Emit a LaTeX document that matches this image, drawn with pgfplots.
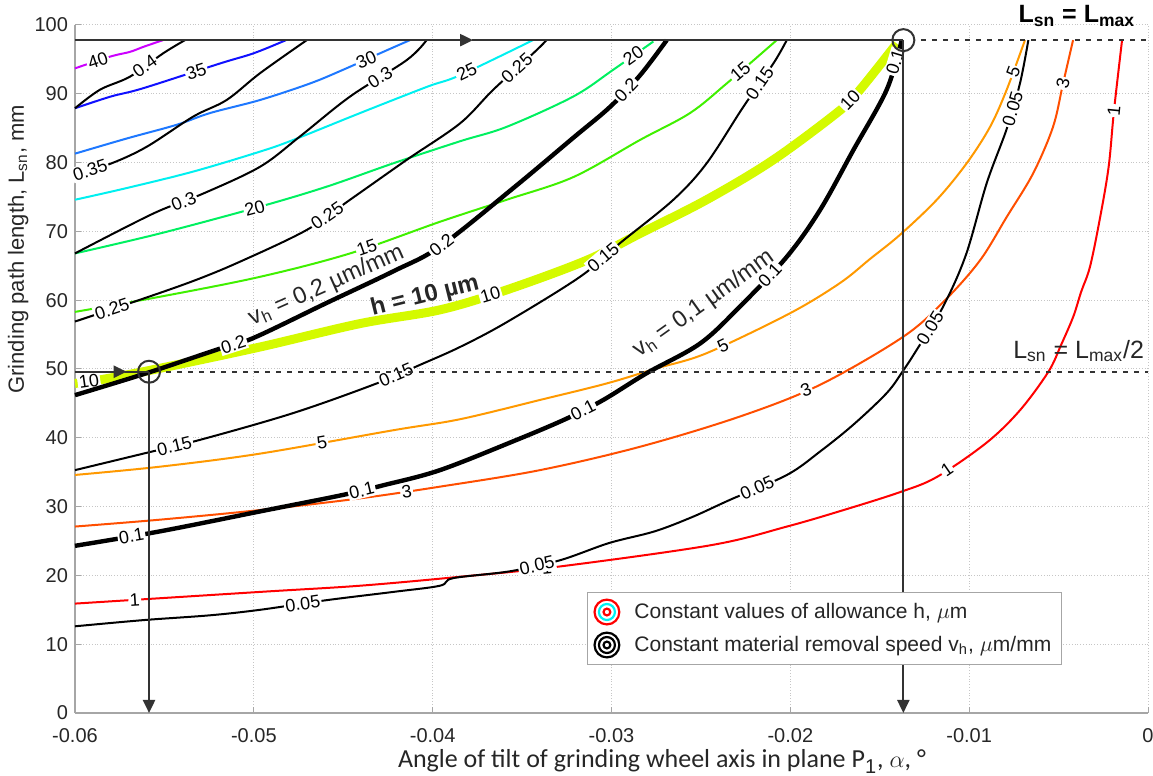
\documentclass[border=0pt]{standalone}
\usepackage{pgfplots}
\pgfplotsset{compat=1.18}
\usepackage{fontspec}
\setmainfont{Liberation Sans}
\newfontfamily\carlito{Carlito}
\usetikzlibrary{arrows.meta}
\definecolor{h40}{HTML}{CC00FF}
\definecolor{h35}{HTML}{1010FF}
\definecolor{h30}{HTML}{1E78FF}
\definecolor{h25}{HTML}{00F0F0}
\definecolor{h20}{HTML}{00F060}
\definecolor{h15}{HTML}{40F000}
\definecolor{h10}{HTML}{D4FA00}
\definecolor{h5}{HTML}{FF9900}
\definecolor{h3}{HTML}{FF4E00}
\definecolor{h1}{HTML}{FF0000}
\definecolor{annot}{HTML}{333333}
\tikzset{clab/.style={sloped, fill=white, inner sep=0.7pt, font=\fontsize{9}{9}\selectfont, text=black}}
\pgfplotsset{
  hc/.style={forget plot, smooth, tension=0.55, line width=1pt},
  vc/.style={forget plot, smooth, tension=0.55, line width=1pt, black},
  vct/.style={forget plot, smooth, tension=0.55, line width=2.2pt, black},
}
\begin{document}
\begin{tikzpicture}
\begin{axis}[
  scale only axis, width=536.5pt, height=344pt,
  xmin=-0.06, xmax=0, ymin=0, ymax=100,
  axis lines*=left,
  axis line style={gray!70, line width=0.6pt},
  clip=false,
  scaled x ticks=false, scaled y ticks=false,
  xtick={-0.06,-0.05,-0.04,-0.03,-0.02,-0.01,0},
  xticklabels={-0.06,-0.05,-0.04,-0.03,-0.02,-0.01,0},
  ytick={0,10,...,100},
  /pgf/number format/assume math mode=true,
  tick label style={font=\fontsize{10}{12}\selectfont, text=black!85},
  xticklabel style={yshift=-4pt},
  tick align=inside, major tick length=3pt, tick style={gray!70, line width=0.5pt},
  grid=major, major grid style={densely dotted, gray!45, line width=0.5pt},
  xlabel={\carlito Angle of tilt of grinding wheel axis in plane P\textsubscript{\normalfont\fontsize{10}{10}\selectfont 1}, $\alpha$, °},
  xlabel style={at={(axis description cs:0.547,0)}, anchor=base, yshift=-27.5pt, font=\fontsize{13}{15}\selectfont, text=black!85},
  ylabel={Grinding path length, L\textsubscript{sn}, mm},
  ylabel style={at={(axis description cs:-0.053,0.674)}, anchor=center, font=\fontsize{11}{13}\selectfont, text=black!85},
  legend style={at={(0.477,0.176)}, anchor=north west, draw=gray!70, line width=0.6pt,
    font=\fontsize{10.5}{12}\selectfont, inner xsep=3pt, inner ysep=3pt, row sep=3pt, text=black!85},
  legend cell align=left,
]
\addlegendimage{legend image code/.code={\draw[h1,line width=1.1pt] (0.2cm,0) circle (6.2pt); \draw[h25,line width=1.1pt] (0.2cm,0) circle (4pt); \draw[h1,line width=1.1pt] (0.2cm,0) circle (1.7pt);}}
\addlegendentry{\hspace*{5pt}Constant values of allowance h, $\mu$m}
\addlegendimage{legend image code/.code={\draw[black,line width=1.1pt] (0.2cm,0) circle (6.2pt); \draw[black,line width=1.1pt] (0.2cm,0) circle (4pt); \draw[black,line width=1.1pt] (0.2cm,0) circle (1.7pt);}}
\addlegendentry{\hspace*{5pt}Constant material removal speed v\textsubscript{h}, $\mu$m/mm}

% ---------- h contours ----------
\addplot[hc, h40] coordinates {(-0.06,93.7) (-0.05804,95.4) (-0.05692,96.1) (-0.0562,96.8) (-0.05508,97.8)}
  node[clab, pos=0.27] {40};
\addplot[hc, h35] coordinates {(-0.06,87.9) (-0.058,89.6) (-0.0562,90.8) (-0.0519,94.4) (-0.050,95.9) (-0.0482,97.8)}
  node[clab, pos=0.545] {35};
\addplot[hc, h30] coordinates {(-0.06,81.3) (-0.05711,83.5) (-0.05431,85.5) (-0.05245,87.2) (-0.04965,89.1) (-0.04686,91.5) (-0.045,93.5) (-0.04276,96.1) (-0.04127,97.8)}
  node[clab, pos=0.83] {30};
\addplot[hc, h25] coordinates {(-0.06,74.6) (-0.05711,76.3) (-0.05338,78.7) (-0.04965,81.6) (-0.04779,83.3) (-0.04406,87.2) (-0.04033,91.0) (-0.03847,92.7) (-0.03439,97.8)}
  node[clab, pos=0.80] {25};
\addplot[hc, h20] coordinates {(-0.06,66.8) (-0.05525,69.7) (-0.04965,73.6) (-0.04593,76.5) (-0.0422,79.9) (-0.03847,83.1) (-0.03586,85.2) (-0.03214,89.6) (-0.0299,93.5) (-0.02766,97.6)}
  node[clab, pos=0.214] {20} node[clab, pos=0.933] {20};
\addplot[hc, h15] coordinates {(-0.06,58.3) (-0.05525,60.5) (-0.04965,63.4) (-0.04462,66.8) (-0.03959,71.4) (-0.03586,74.6) (-0.03213,77.9) (-0.0284,83.3) (-0.02561,87.2) (-0.02356,91.5) (-0.02076,97.8)}
  node[clab, pos=0.237] {15} node[clab, pos=0.884] {15};
\addplot[hc, h10, line width=4.5pt] coordinates {(-0.06,47.9) (-0.05842,48.5) (-0.05525,50.1) (-0.04965,53.2) (-0.04406,56.6) (-0.03959,58.6) (-0.03586,61.5) (-0.03139,65.8) (-0.0284,69.7) (-0.02468,74.6) (-0.02095,80.4) (-0.01722,87.6) (-0.0161,90.6) (-0.01405,97.3)}
  node[clab, pos=0.006] {10} node[clab, pos=0.261] {10} node[clab, pos=0.834] {10};
\addplot[hc, h5] coordinates {(-0.06,34.6) (-0.05525,35.8) (-0.04965,37.7) (-0.0422,41.1) (-0.03847,42.7) (-0.034,45.5) (-0.03027,47.9) (-0.02747,50.1) (-0.02468,52.3) (-0.02002,58.1) (-0.01722,62.5) (-0.01554,66.0) (-0.01387,69.5) (-0.01181,74.6) (-0.01014,79.9) (-0.00883,85.2) (-0.0079,90.6) (-0.00688,97.8)}
  node[clab, pos=0.074] {5} node[clab, pos=0.298] {5} node[clab, pos=0.927] {5};
\addplot[hc, h3] coordinates {(-0.06,27.1) (-0.05525,28.1) (-0.04965,29.5) (-0.04406,31.2) (-0.03959,32.9) (-0.034,35.3) (-0.0284,38.7) (-0.02281,43.1) (-0.01834,47.7) (-0.01368,54.7) (-0.01135,60.0) (-0.00939,65.8) (-0.0079,72.1) (-0.00643,78.4) (-0.00531,85.2) (-0.00475,91.5) (-0.00419,97.8)}
  node[clab, pos=0.072] {3} node[clab, pos=0.28] {3} node[clab, pos=0.911] {3};
\addplot[hc, h1] coordinates {(-0.06,15.9) (-0.04965,17.6) (-0.04406,18.5) (-0.03847,19.8) (-0.03288,21.3) (-0.02442,24.4) (-0.02019,27.1) (-0.01702,29.5) (-0.01387,32.1) (-0.01181,34.3) (-0.00902,39.3) (-0.00716,44.0) (-0.00557,49.6) (-0.00486,53.5) (-0.00418,57.6) (-0.00374,61.2) (-0.00324,64.9) (-0.00268,72.0) (-0.0022,79.4) (-0.0019,87.6) (-0.00145,97.8)}
  node[clab, pos=0.0067] {1} node[clab, pos=0.0635] {1} node[clab, pos=0.237] {1} node[clab, pos=0.875] {1};

% ---------- vh contours ----------
\addplot[vc] coordinates {(-0.06,87.9) (-0.0586,90.6) (-0.05692,92.5) (-0.05506,95.9) (-0.05385,97.8)}
  node[clab, pos=0.616] {0.4};
\addplot[vc] coordinates {(-0.06,78.2) (-0.05795,79.9) (-0.05599,82.3) (-0.05338,86.7) (-0.05152,89.1) (-0.04965,93.0) (-0.04704,97.8)}
  node[clab, pos=0.036] {0.35};
\addplot[vc] coordinates {(-0.06,66.8) (-0.05562,72.6) (-0.05283,75.5) (-0.04965,79.4) (-0.04742,83.8) (-0.04462,89.6) (-0.04145,94.9) (-0.04034,97.8)}
  node[clab, pos=0.244] {0.3} node[clab, pos=0.826] {0.3};
\addplot[vc] coordinates {(-0.06,56.9) (-0.05655,59.9) (-0.05338,62.8) (-0.05077,65.6) (-0.04705,70.2) (-0.04462,74.6) (-0.04145,80.4) (-0.03847,85.7) (-0.03661,90.6) (-0.03437,95.9) (-0.03363,97.8)}
  node[clab, pos=0.044] {0.25} node[clab, pos=0.376] {0.25} node[clab, pos=0.90] {0.25};
\addplot[vct] coordinates {(-0.06,46.2) (-0.05599,49.4) (-0.05208,52.8) (-0.05003,54.5) (-0.04593,59.6) (-0.0422,64.2) (-0.03959,67.8) (-0.03549,76.3) (-0.03214,83.6) (-0.03008,88.1) (-0.0284,92.7) (-0.02691,97.8)}
  node[clab, pos=0.143] {0.2} node[clab, pos=0.422] {0.2} node[clab, pos=0.86] {0.2};
\addplot[vc] coordinates {(-0.06,35.3) (-0.05618,37.7) (-0.05301,39.7) (-0.04779,43.6) (-0.04313,47.9) (-0.04071,50.6) (-0.03847,53.2) (-0.03586,56.8) (-0.03176,63.4) (-0.02952,68.3) (-0.02654,74.6) (-0.02468,79.9) (-0.02263,88.1) (-0.02095,94.4) (-0.0202,97.8)}
  node[clab, pos=0.056] {0.15} node[clab, pos=0.221] {0.15} node[clab, pos=0.495] {0.15} node[clab, pos=0.90] {0.15};
\addplot[vct] coordinates {(-0.06,24.3) (-0.05525,26.4) (-0.04965,29.3) (-0.04501,31.7) (-0.04276,33.1) (-0.03959,35.3) (-0.0353,39.7) (-0.0325,42.8) (-0.03046,45.5) (-0.02803,49.4) (-0.02505,53.7) (-0.02281,59.1) (-0.0202,66.3) (-0.01834,73.1) (-0.01648,81.8) (-0.01461,90.6) (-0.01377,97.8)}
  node[clab, pos=0.019] {0.1} node[clab, pos=0.1095] {0.1} node[clab, pos=0.268] {0.1} node[clab, pos=0.536] {0.1} node[clab, pos=0.957] {0.1};
\addplot[vc] coordinates {(-0.06,12.6) (-0.05618,13.5) (-0.05245,14.2) (-0.04965,15.0) (-0.04593,16.4) (-0.0422,17.6) (-0.03959,18.5) (-0.03885,19.6) (-0.03567,20.6) (-0.03288,22.2) (-0.03014,24.7) (-0.02759,26.4) (-0.02547,28.5) (-0.02336,31.0) (-0.02019,34.6) (-0.01834,38.0) (-0.01648,41.9) (-0.01461,46.5) (-0.01368,49.8) (-0.01293,52.8) (-0.01145,59.1) (-0.01018,66.6) (-0.00902,77.0) (-0.0079,84.9) (-0.00716,91.5) (-0.00669,97.8)}
  node[clab, pos=0.0387] {0.05} node[clab, pos=0.104] {0.05} node[clab, pos=0.236] {0.05} node[clab, pos=0.509] {0.05} node[clab, pos=0.883] {0.05};

% ---------- annotations ----------
\draw[annot, line width=1.1pt, -{Triangle[length=6.5pt,width=6pt]}] (axis cs:-0.06,97.8) -- (axis cs:-0.03774,97.8);
\draw[annot, line width=1.1pt] (axis cs:-0.0378,97.8) -- (axis cs:-0.01368,97.8);
\draw[annot, line width=1.1pt, dash pattern=on 2.5pt off 3pt] (axis cs:-0.0127,97.8) -- (axis cs:0,97.8);
\draw[annot, line width=1pt] (axis cs:-0.01368,97.8) circle (5.5pt);
\draw[annot, line width=1.1pt, -{Triangle[length=6.5pt,width=6pt]}] (axis cs:-0.01368,97.8) -- (axis cs:-0.01368,0);

\draw[annot, line width=1.1pt, -{Triangle[length=6.5pt,width=6pt]}] (axis cs:-0.06,49.6) -- (axis cs:-0.05711,49.6);
\draw[annot, line width=1.1pt] (axis cs:-0.0572,49.6) -- (axis cs:-0.05586,49.6);
\draw[annot, line width=1.1pt, dash pattern=on 2.5pt off 3pt] (axis cs:-0.0549,49.6) -- (axis cs:0,49.6);
\draw[annot, line width=1pt] (axis cs:-0.05586,49.6) circle (5.5pt);
\draw[annot, line width=1.1pt, -{Triangle[length=6.5pt,width=6pt]}] (axis cs:-0.05586,49.6) -- (axis cs:-0.05586,0);

\node[anchor=base east, font=\bfseries\fontsize{12.5}{14}\selectfont, text=black, inner sep=0pt] at (axis cs:-0.0007,100.3) {L\textsubscript{sn} = L\textsubscript{max}};
\node[anchor=base east, font=\fontsize{12.5}{14}\selectfont, text=black!85, inner sep=0pt] at (axis cs:-0.0002,51.55) {L\textsubscript{sn} = L\textsubscript{max}/2};
\node[anchor=base, rotate=24, font=\fontsize{11.8}{14}\selectfont, text=black!85, inner sep=0pt] at (axis cs:-0.0458,61.3) {v\textsubscript{h} = 0,2 µm/mm};
\node[anchor=base, rotate=14, font=\bfseries\fontsize{12}{14}\selectfont, text=black!85, inner sep=0pt] at (axis cs:-0.04034,59.7) {h = 10 µm};
\node[anchor=base, rotate=35.5, font=\fontsize{11.8}{14}\selectfont, text=black!85, inner sep=0pt] at (axis cs:-0.02463,58.7) {v\textsubscript{h} = 0,1 µm/mm};
\end{axis}
\pgfresetboundingbox
\path (-37.5pt,-31.5pt) rectangle (539pt,356.5pt);
\end{tikzpicture}
\end{document}
